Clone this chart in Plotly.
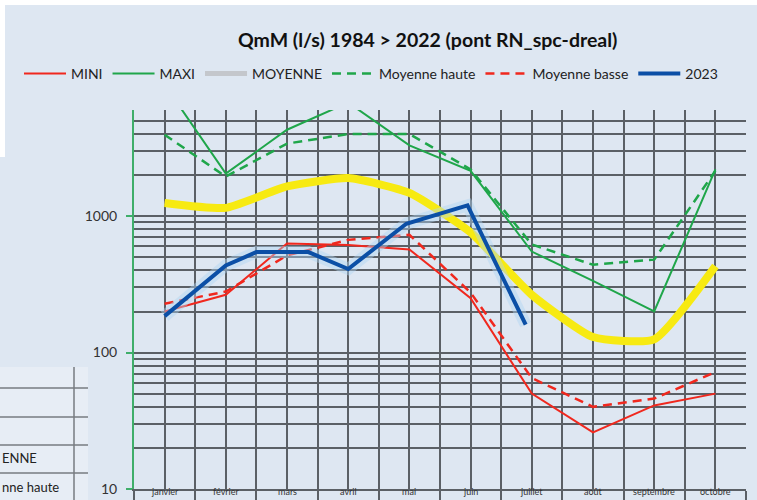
import plotly.graph_objects as go

months = ["janvier", "février", "mars", "avril", "mai", "juin",
          "juillet", "août", "septembre", "octobre"]
mini = [200, 265, 630, 615, 570, 250, 50, 26, 41, 50]
maxi = [9200, 2050, 4300, 6800, 3300, 2150, 550, 335, 200, 2200]
moyenne = [1250, 1150, 1650, 1900, 1480, 760, 265, 130, 125, 430]
moy_haute = [3950, 1950, 3400, 4000, 4000, 2200, 620, 440, 480, 2150]
moy_basse = [228, 280, 515, 670, 730, 275, 65, 40, 46, 72]
x2023 = [0, 1, 1.5, 2.35, 3, 3.95, 4.95, 5.9]
y2023 = [185, 435, 545, 545, 410, 880, 1200, 160]
y_ticks = [10, 100, 1000]

xs = list(range(len(months)))
BG = "#dee7f2"
GRID = "#5b6066"
FONT = "Lato"

fig = go.Figure()
fig.add_trace(go.Scatter(x=xs, y=mini, mode="lines", name="MINI",
                         line=dict(color="#f0281e", width=2)))
fig.add_trace(go.Scatter(x=xs, y=maxi, mode="lines", name="MAXI",
                         line=dict(color="#1fa64a", width=2)))
fig.add_trace(go.Scatter(x=xs, y=moyenne, mode="lines", name="MOYENNE",
                         line=dict(color="#c4c7cc", width=5, shape="spline", smoothing=0.5)))
fig.add_trace(go.Scatter(x=xs, y=moyenne, mode="lines", showlegend=False, hoverinfo="skip",
                         line=dict(color="#f7ea12", width=8, shape="spline", smoothing=0.5)))
fig.add_trace(go.Scatter(x=xs, y=moy_haute, mode="lines", name="Moyenne haute",
                         line=dict(color="#1fa64a", width=2.5, dash="9px,6px")))
fig.add_trace(go.Scatter(x=xs, y=moy_basse, mode="lines", name="Moyenne basse",
                         line=dict(color="#f0281e", width=2.5, dash="9px,6px")))
fig.add_trace(go.Scatter(x=x2023, y=y2023, mode="lines", showlegend=False, hoverinfo="skip",
                         line=dict(color="rgba(175,212,242,0.45)", width=12)))
fig.add_trace(go.Scatter(x=x2023, y=y2023, mode="lines", name="2023",
                         line=dict(color="#0b4fa6", width=4)))

boundaries = [i - 0.5 for i in range(len(months) + 1)]
minor_y = [v * m for m in (10, 100, 1000) for v in range(2, 10) if v * m <= 6000]

# pixel -> paper coordinate helpers
L, R, T, B = 134, 746, 110, 489
def px(x):
    return (x - L) / (R - L)
def py(y):
    return (B - y) / (B - T)

# artifacts of the screenshot (white strip, table fragment)
shapes = [
    dict(type="rect", xref="paper", yref="paper", x0=px(0), x1=px(757), y0=py(0), y1=py(5),
         fillcolor="white", line=dict(width=0), layer="above"),
    dict(type="rect", xref="paper", yref="paper", x0=px(0), x1=px(5), y0=py(0), y1=py(157),
         fillcolor="white", line=dict(width=0), layer="above"),
    dict(type="rect", xref="paper", yref="paper", x0=px(0), x1=px(88), y0=py(367), y1=py(500),
         fillcolor="#e7edf5", line=dict(width=0), layer="above"),
    dict(type="line", xref="paper", yref="paper", x0=px(74), x1=px(74), y0=py(367), y1=py(500),
         line=dict(color="#777b80", width=1.5), layer="above"),
]
for yy in (388, 417, 445, 473):
    shapes.append(dict(type="line", xref="paper", yref="paper", x0=px(0), x1=px(88),
                       y0=py(yy), y1=py(yy), line=dict(color="#777b80", width=1.5), layer="above"))

annotations = [
    dict(text="ENNE", xref="paper", yref="paper", x=px(0), y=py(458), xanchor="left",
         yanchor="middle", showarrow=False, font=dict(family=FONT, size=13, color="#222")),
    dict(text="nne haute", xref="paper", yref="paper", x=px(0), y=py(487), xanchor="left",
         yanchor="middle", showarrow=False, font=dict(family=FONT, size=13, color="#222")),
]
# month labels just under the axis (kept inside the page)
for xi, m in zip(xs, months):
    annotations.append(dict(text=m, xref="x", yref="paper", x=xi, y=py(499.5),
                            xanchor="center", yanchor="bottom", showarrow=False,
                            font=dict(family=FONT, size=9, color="#333")))

fig.update_layout(
    width=757, height=500,
    margin=dict(l=L, r=757 - R, t=T, b=500 - B),
    paper_bgcolor=BG, plot_bgcolor=BG,
    font=dict(family=FONT, color="#222"),
    title=dict(text="<b>QmM (l/s) 1984 > 2022 (pont RN_spc-dreal)</b>",
               x=0.565, xref="container", xanchor="center",
               y=1 - 40 / 500, yref="container", yanchor="middle",
               font=dict(family=FONT, size=19.5, color="#111")),
    legend=dict(orientation="h", x=px(19), xanchor="left", y=py(74), yanchor="middle",
                font=dict(family=FONT, size=14, color="#222"), bgcolor="rgba(0,0,0,0)",
                itemwidth=42, tracegroupgap=0),
    showlegend=True,
    shapes=shapes,
    annotations=annotations,
)

fig.update_xaxes(
    range=[-0.5, len(months) - 0.5],
    tickmode="array", tickvals=xs, showticklabels=False,
    ticks="",
    showgrid=True, gridcolor=GRID, gridwidth=1.5,
    zeroline=False, showline=True, linecolor=GRID, linewidth=1.5,
    automargin=False,
    minor=dict(tickmode="array", tickvals=boundaries, showgrid=True, gridcolor=GRID,
               gridwidth=1.5, ticks="outside", ticklen=16, tickcolor=GRID, tickwidth=1.5),
)
fig.update_yaxes(
    type="log", range=[1, 3.778],
    tickmode="array", tickvals=y_ticks, ticktext=[str(v) for v in y_ticks],
    tickfont=dict(family=FONT, size=14, color="#333"),
    ticks="outside", ticklen=6, tickcolor="#3fae6a", tickwidth=1.5,
    ticklabelstandoff=6,
    showgrid=True, gridcolor=GRID, gridwidth=1.5,
    zeroline=False, showline=True, linecolor="#3fae6a", linewidth=2,
    automargin=False,
    minor=dict(tickmode="array", tickvals=minor_y, showgrid=True, gridcolor=GRID,
               gridwidth=1.5, ticks=""),
)

fig.write_html("out.html", config={"displayModeBar": False},
               post_script="document.body.style.margin='0px';")
